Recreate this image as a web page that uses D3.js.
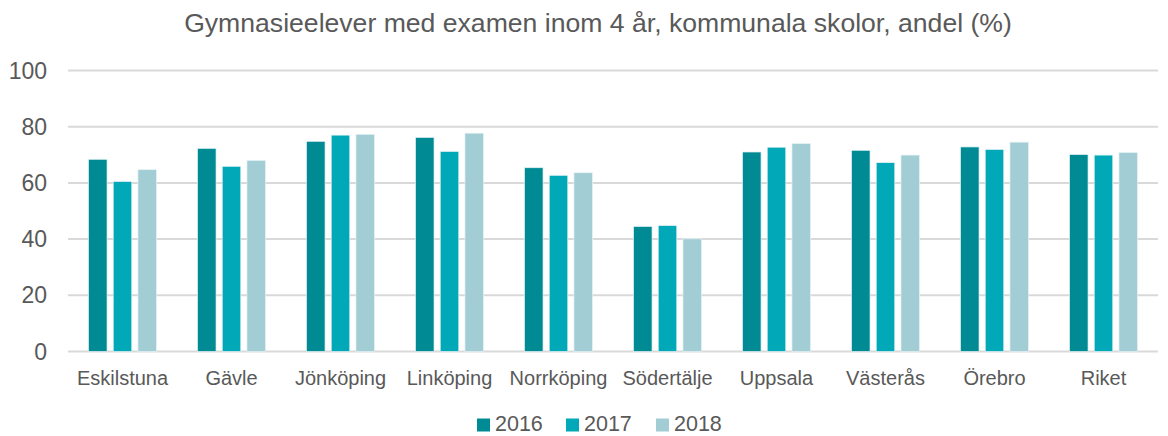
<!DOCTYPE html>
<html lang="sv">
<head>
<meta charset="UTF-8">
<title>Gymnasieelever med examen inom 4 år</title>
<style>
body { margin: 0; background: #fff; }
svg text { font-family: "Liberation Sans", Arial, sans-serif; fill: #595959; }
.grid line { stroke: #d9d9d9; stroke-width: 2px; }
</style>
</head>
<body>
<div id="chart"></div>
<script src="https://cdnjs.cloudflare.com/ajax/libs/d3/7.8.5/d3.min.js"></script>
<script>

const title = "Gymnasieelever med examen inom 4 år, kommunala skolor, andel (%)";
const categories = ["Eskilstuna", "Gävle", "Jönköping", "Linköping", "Norrköping",
  "Södertälje", "Uppsala", "Västerås", "Örebro", "Riket"];
const years = ["2016", "2017", "2018"];
const v2016 = [68.4, 72.3, 74.8, 76.2, 65.4, 44.5, 71.0, 71.6, 72.8, 70.1];
const v2017 = [60.5, 65.9, 77.0, 71.2, 62.7, 44.8, 72.7, 67.2, 71.9, 69.9];
const v2018 = [64.7, 68.0, 77.3, 77.7, 63.6, 40.1, 74.0, 69.9, 74.5, 70.8];
const yTicks = [0, 20, 40, 60, 80, 100];
const colors = ["#008b94", "#00a8b8", "#a3cdd4"];

const series = [v2016, v2017, v2018];
const width = 1168, height = 436;
const margin = { top: 70.5, right: 10, bottom: 84.5, left: 68 };

const svg = d3.select("#chart").append("svg")
  .attr("width", width)
  .attr("height", height);

const x = d3.scaleBand()
  .domain(categories)
  .range([margin.left, width - margin.right])
  .paddingInner(0)
  .paddingOuter(0);

const xInner = d3.scaleBand()
  .domain(years)
  .range([0, 68])
  .paddingInner(0.25)
  .paddingOuter(0);

const y = d3.scaleLinear()
  .domain([0, 100])
  .range([height - margin.bottom, margin.top]);

// title
svg.append("text")
  .attr("x", 598)
  .attr("y", 32)
  .attr("text-anchor", "middle")
  .style("font-size", "26.6px")
  .text(title);

// gridlines
svg.append("g")
  .attr("class", "grid")
  .selectAll("line")
  .data(yTicks)
  .join("line")
  .attr("x1", margin.left)
  .attr("x2", width - margin.right)
  .attr("y1", d => y(d))
  .attr("y2", d => y(d));

// y labels
svg.append("g")
  .selectAll("text")
  .data(yTicks)
  .join("text")
  .attr("x", 47)
  .attr("y", d => y(d))
  .attr("dy", "0.35em")
  .attr("text-anchor", "end")
  .style("font-size", "23px")
  .text(d => d);

// bars
const groups = svg.append("g")
  .selectAll("g")
  .data(categories)
  .join("g")
  .attr("transform", d => "translate(" + (x(d) + (x.bandwidth() - 68) / 2) + ",0)");

groups.selectAll("rect")
  .data((c, i) => years.map((yr, j) => ({ year: yr, value: series[j][i], j: j })))
  .join("rect")
  .attr("x", d => xInner(d.year))
  .attr("width", xInner.bandwidth())
  .attr("y", d => y(d.value))
  .attr("height", d => y(0) - y(d.value))
  .attr("fill", d => colors[d.j])
  .attr("stroke", "#e6f3f5")
  .attr("stroke-width", 0.7);

// x labels
svg.append("g")
  .selectAll("text")
  .data(categories)
  .join("text")
  .attr("x", d => x(d) + x.bandwidth() / 2)
  .attr("y", 385)
  .attr("text-anchor", "middle")
  .style("font-size", "20px")
  .text(d => d);

// legend
const legendX = [477, 566, 656];
const legend = svg.append("g")
  .selectAll("g")
  .data(years)
  .join("g")
  .attr("transform", (d, i) => "translate(" + legendX[i] + ",0)");

legend.append("rect")
  .attr("x", 0)
  .attr("y", 418.5)
  .attr("width", 13)
  .attr("height", 13)
  .attr("fill", (d, i) => colors[i]);

legend.append("text")
  .attr("x", 18)
  .attr("y", 431)
  .style("font-size", "21.5px")
  .text(d => d);
</script>
</body>
</html>
